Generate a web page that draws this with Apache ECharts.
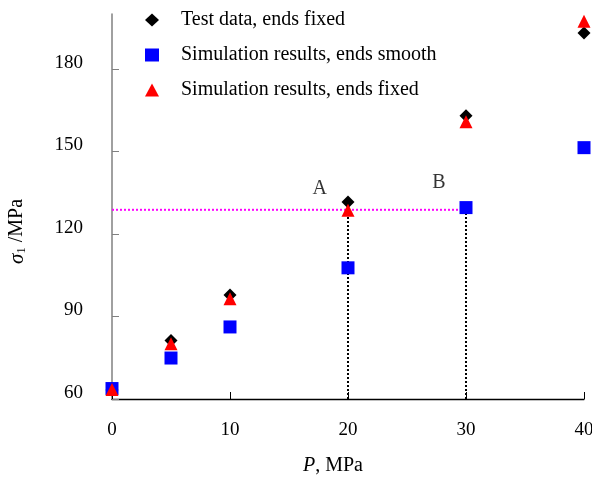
<!DOCTYPE html>
<html><head><meta charset="utf-8">
<script src="https://cdn.jsdelivr.net/npm/echarts@6/dist/echarts.min.js"></script>
<style>html,body{margin:0;padding:0;background:#fff}#c{width:592px;height:481px}</style>
</head><body><div id="c"></div>
<script>
var pressure = [0, 5, 10, 20, 30, 40];
var testFixed = [63.3, 81.3, 97.8, 131.6, 163.0, 193.1];
var simSmooth = [63.8, 74.9, 86.2, 107.7, 129.6, 151.4];
var simFixed = [63.5, 80.1, 96.5, 128.6, 160.8, 197.4];
var xTicks = [0, 10, 20, 30, 40];
var yTicks = [60, 90, 120, 150, 180];
var refLevel = 128.8;
var refLineEnd = 30.4;
var markA = [17.6, 136.4];
var markB = [27.7, 138.6];

function pairs(xs, ys){ return xs.map(function(x,i){ return [x, ys[i]]; }); }
var font = '"Liberation Serif", "Times New Roman", serif';

var chart = echarts.init(document.getElementById('c'));
chart.setOption({
  animation: false,
  textStyle: {fontFamily: font},
  grid: {left: 112, right: 8, top: 14, bottom: 82, outerBoundsMode: 'none', containLabel: false},
  legend: {
    orient: 'vertical', left: 145, top: 10, itemGap: 15, padding: 0,
    itemWidth: 14, itemHeight: 13,
    textStyle: {fontFamily: font, fontSize: 20, lineHeight: 20, color: '#000', padding: [0,0,0,17]},
    data: ['Test data, ends fixed', 'Simulation results, ends smooth', 'Simulation results, ends fixed']
  },
  xAxis: {
    type: 'value', min: 0, max: 40, interval: 10,
    name: '{i|P}, MPa', nameLocation: 'middle', nameGap: 57,
    nameTextStyle: {fontFamily: font, fontSize: 20, color: '#000', padding: [0,30,0,0],
      rich: {i: {fontStyle: 'italic', fontFamily: font, fontSize: 20, color: '#000'}}},
    axisLine: {show: true, lineStyle: {color: '#000', width: 1.3}},
    axisTick: {show: true, inside: true, length: 7, lineStyle: {color: '#000'}, customValues: xTicks},
    axisLabel: {fontFamily: font, fontSize: 19, color: '#000', margin: 22, customValues: xTicks},
    splitLine: {show: false}
  },
  yAxis: {
    type: 'value', min: 60, max: 200, interval: 30,
    name: '{s|σ}{sub|1} /MPa', nameLocation: 'middle', nameGap: 84, nameRotate: 90,
    nameTextStyle: {fontFamily: font, fontSize: 20, color: '#000', padding: [0,50,0,0],
      rich: {
        s: {fontStyle: 'italic', fontFamily: font, fontSize: 21, color: '#000'},
        sub: {fontFamily: font, fontSize: 13, color: '#000', padding: [9,0,0,0]}
      }},
    axisLine: {show: true, lineStyle: {color: '#808080', width: 1.5}},
    axisTick: {show: true, inside: true, length: 7, lineStyle: {color: '#808080'}, customValues: yTicks},
    axisLabel: {fontFamily: font, fontSize: 19, color: '#000', margin: 29, verticalAlign: 'bottom', lineHeight: 12, customValues: yTicks},
    splitLine: {show: false}
  },
  series: [
    {type: 'line', data: [[0, refLevel], [refLineEnd, refLevel]], symbol: 'none', silent: true,
     lineStyle: {color: '#ff00ff', type: [2, 2], width: 2}, z: 1},
    {type: 'line', data: [[20, 60], [20, refLevel]], symbol: 'none', silent: true,
     lineStyle: {color: '#000', type: [2, 2], width: 2}, z: 1},
    {type: 'line', data: [[30, 60], [30, refLevel]], symbol: 'none', silent: true,
     lineStyle: {color: '#000', type: [2, 2], width: 2}, z: 1},
    {name: 'Test data, ends fixed', type: 'scatter', symbol: 'diamond', symbolSize: 13,
     itemStyle: {color: '#000', opacity: 1}, data: pairs(pressure, testFixed), z: 3},
    {name: 'Simulation results, ends smooth', type: 'scatter', symbol: 'rect', symbolSize: 13,
     itemStyle: {color: '#0000ff', opacity: 1}, data: pairs(pressure, simSmooth), z: 4},
    {name: 'Simulation results, ends fixed', type: 'scatter', symbol: 'triangle', symbolSize: 13,
     itemStyle: {color: '#ff0000', opacity: 1}, data: pairs(pressure, simFixed), z: 5},
    {type: 'scatter', symbolSize: 0, silent: true,
     data: [{name: 'A', value: markA}, {name: 'B', value: markB}],
     label: {show: true, position: 'inside', formatter: '{b}', fontFamily: font, fontSize: 20, color: '#000'}}
  ]
});
</script></body></html>
